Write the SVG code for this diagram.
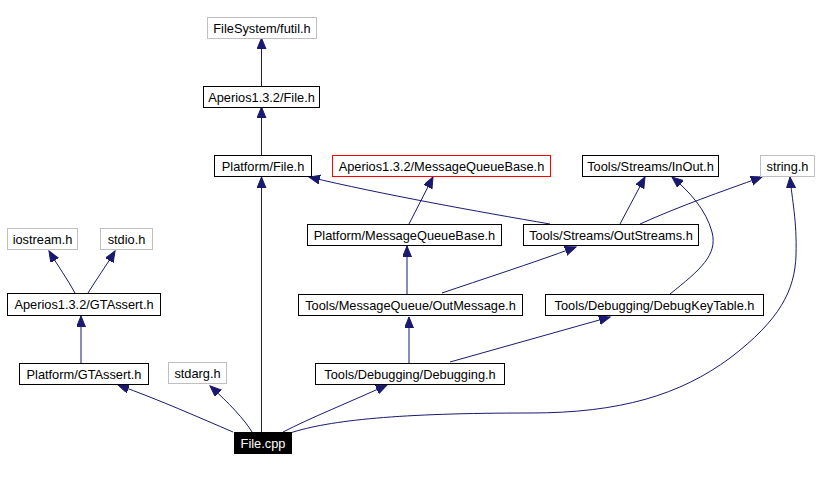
<svg xmlns="http://www.w3.org/2000/svg" width="819" height="489" viewBox="0 0 819 489">
<style>
.n rect{fill:#fff;stroke:#000;stroke-width:1}
.g rect{stroke:#bfbfbf}
.r rect{stroke:#ff0000}
text{font-family:"Liberation Sans",Arial,sans-serif;font-size:12.8px;text-anchor:middle;fill:#000}
.e path{fill:none;stroke:#191970;stroke-width:1;marker-end:url(#ah)}
.root rect{fill:#000;stroke:#000}
.root text{fill:#fff}
</style>
<defs>
<marker id="ah" markerUnits="userSpaceOnUse" markerWidth="14" markerHeight="12" refX="11" refY="4.5" orient="auto">
<path d="M0,0 L11,4.5 L0,9 Z" fill="#191970" stroke="#191970"/>
</marker>
</defs>
<rect width="819" height="489" fill="#fff"/>
<g id="edges" class="e">
<path d="M261.5,86 L261.5,38"/>
<path d="M261.5,155 L261.5,107"/>
<path d="M261.5,432 L261.5,177"/>
<path d="M409,224 L433,177"/>
<path d="M550,224 C480,212 380,194 309,177"/>
<path d="M620,224 L645,177"/>
<path d="M640,224 C680,206 720,192 762,177"/>
<path d="M670,294 C700,270 718,255 712,232 C706,210 690,192 672,177"/>
<path d="M290,433 C330,420 400,413 530,413 C620,413 680,395 730,358 C780,320 795,290 796,255 C797,220 792,200 790,177"/>
<path d="M81,363 L81,316"/>
<path d="M75,293 C68,280 58,266 49,251"/>
<path d="M88,293 C96,280 106,266 115,251"/>
<path d="M233,432 C200,418 160,400 118,385"/>
<path d="M252,432 C245,420 228,402 210,386"/>
<path d="M283,432 C310,418 350,402 387,385"/>
<path d="M409,363 L409,317"/>
<path d="M450,362 L610,317"/>
<path d="M407,294 L407,246"/>
<path d="M442,293 C480,280 530,264 576,247"/>
</g>
<g id="futil" class="n g"><rect x="207.5" y="17.5" width="109" height="21"/><text x="262" y="32.5">FileSystem/futil.h</text></g>
<g id="aperiosFile" class="n"><rect x="203.5" y="86.5" width="116" height="21"/><text x="261.5" y="101.5">Aperios1.3.2/File.h</text></g>
<g id="platformFile" class="n"><rect x="214.5" y="155.5" width="97" height="21"/><text x="263" y="170.5">Platform/File.h</text></g>
<g id="aperiosMQB" class="n r"><rect x="332.5" y="155.5" width="218" height="21"/><text x="441.5" y="170.5">Aperios1.3.2/MessageQueueBase.h</text></g>
<g id="inout" class="n"><rect x="582.5" y="155.5" width="136" height="21"/><text x="650.5" y="170.5">Tools/Streams/InOut.h</text></g>
<g id="string" class="n g"><rect x="760.5" y="155.5" width="54" height="21"/><text x="787.5" y="170.5">string.h</text></g>
<g id="iostream" class="n g"><rect x="7.5" y="228.5" width="70" height="21"/><text x="42.5" y="243.5">iostream.h</text></g>
<g id="stdio" class="n g"><rect x="100.5" y="228.5" width="52" height="21"/><text x="126.5" y="243.5">stdio.h</text></g>
<g id="platformMQB" class="n"><rect x="307.5" y="224.5" width="194" height="21"/><text x="404.5" y="239.5">Platform/MessageQueueBase.h</text></g>
<g id="outstreams" class="n"><rect x="523.5" y="224.5" width="175" height="21"/><text x="611" y="239.5">Tools/Streams/OutStreams.h</text></g>
<g id="aperiosGTAssert" class="n"><rect x="7.5" y="293.5" width="153" height="22"/><text x="84" y="309">Aperios1.3.2/GTAssert.h</text></g>
<g id="outmessage" class="n"><rect x="298.5" y="294.5" width="224" height="21"/><text x="410.5" y="309.5">Tools/MessageQueue/OutMessage.h</text></g>
<g id="debugkeytable" class="n"><rect x="545.5" y="294.5" width="218" height="21"/><text x="654.5" y="309.5">Tools/Debugging/DebugKeyTable.h</text></g>
<g id="platformGTAssert" class="n"><rect x="19.5" y="363.5" width="129" height="21"/><text x="84" y="378.5">Platform/GTAssert.h</text></g>
<g id="stdarg" class="n g"><rect x="168.5" y="362.5" width="58" height="21"/><text x="197.5" y="377.5">stdarg.h</text></g>
<g id="debugging" class="n"><rect x="315.5" y="363.5" width="189" height="21"/><text x="410" y="378.5">Tools/Debugging/Debugging.h</text></g>
<g id="filecpp" class="n root"><rect x="234.5" y="432.5" width="57" height="21"/><text x="263" y="447.5">File.cpp</text></g>
</svg>
